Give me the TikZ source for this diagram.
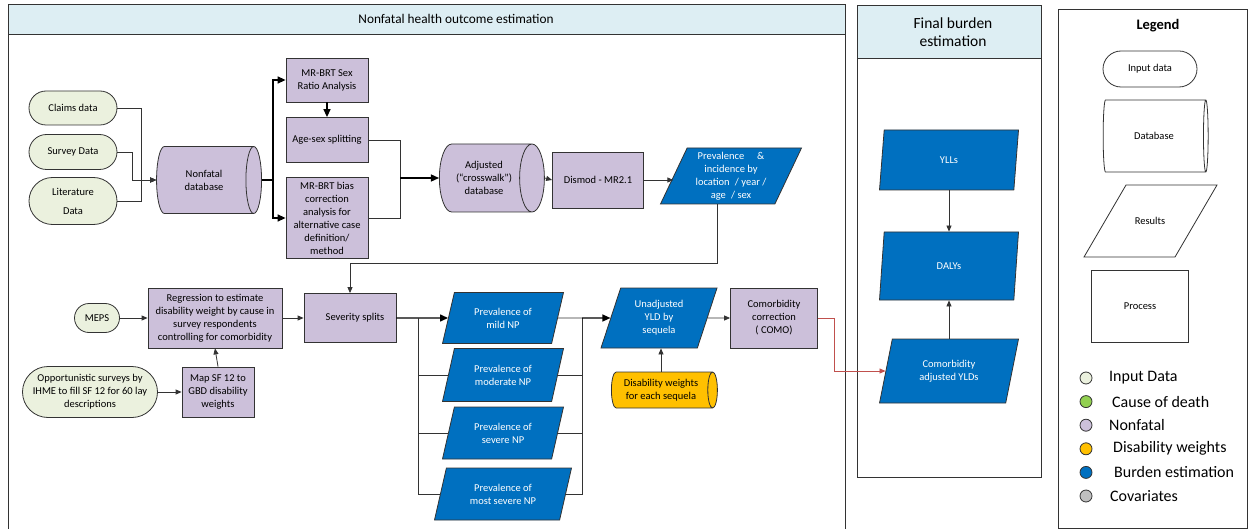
\documentclass[tikz,border=0pt]{standalone}
\usepackage{fontspec}
\setmainfont{Carlito}
\usetikzlibrary{positioning,shapes.geometric,shapes.misc,arrows.meta}

\definecolor{headblue}{HTML}{DDEEF3}
\definecolor{inpgreen}{HTML}{EBF1DE}
\definecolor{nfpurple}{HTML}{CCC0DA}
\definecolor{dwyellow}{HTML}{FFC000}
\definecolor{burdenblue}{HTML}{0070C0}
\definecolor{codgreen}{HTML}{92D050}
\definecolor{covgrey}{HTML}{BFBFBF}
\definecolor{linkred}{HTML}{C0504D}

\tikzset{
  panel/.style={draw=black!80, line width=0.8pt},
  paneltitle/.style={align=center},
  box/.style={draw=black!80, line width=0.8pt, align=center, inner sep=1pt,
    font=\fontsize{10.5}{13}\selectfont},
  inp/.style={box, rounded rectangle, fill=inpgreen},
  proc/.style={box, rectangle, fill=nfpurple},
  dbase/.style={box, cylinder, shape aspect=0.7, fill=nfpurple},
  result/.style={box, trapezium, trapezium left angle=62, trapezium right angle=118,
    trapezium stretches body, fill=burdenblue, text=white},
  flow/.style={draw=black!80, line width=0.8pt, -{Triangle[length=6pt,width=5pt]}},
  flowthick/.style={draw=black, line width=1.4pt, -{Triangle[length=8pt,width=7pt]}},
  legdot/.style={circle, draw=black!80, line width=0.8pt, minimum size=12pt, inner sep=0pt},
  legtext/.style={anchor=west, inner sep=1pt, font=\fontsize{16}{18}\selectfont},
}

\begin{document}
\begin{tikzpicture}[x=1pt,y=-1pt]
  \useasboundingbox (0,0) rectangle (1249,529);

  % Nonfatal panel
  \fill[headblue] (8,4) rectangle (845,34);
  \draw[panel] (8,529) -- (8,4) -- (845,4) -- (845,529);
  \draw[panel] (8,34) -- (845,34);
  \node[paneltitle, font=\fontsize{13.3}{16}\selectfont] (nftitle) at (456,19) {Nonfatal health outcome estimation};

  % Final burden panel
  \draw[panel, fill=headblue] (857,5) rectangle (1041,58);
  \draw[panel] (857,58) rectangle (1041,477);
  \node[paneltitle, font=\fontsize{15.5}{18.5}\selectfont] (fbtitle) at (953,32) {Final burden\\estimation};

  % Legend panel
  \draw[panel] (1058,9) rectangle (1247,528);
  \node[font=\bfseries\fontsize{14.5}{16}\selectfont] (legtitle) at (1158,26) {Legend};

  % input data and nonfatal database
  \node[inp, minimum width=90pt, minimum height=34pt] (claims) at (73,108) {Claims data};
  \node[inp, minimum width=90pt, minimum height=35pt] (survey) at (73,152) {Survey Data};
  \node[inp, minimum width=90pt, minimum height=47pt] (lit) at (73,201) {Literature\\[6pt]Data};
  \node[dbase, minimum height=105pt, minimum width=67pt] (ndb) at (204,180) {Nonfatal\\database};

  % adjustments
  \node[proc, minimum width=82pt, minimum height=44pt] (sexr) at (327,80) {MR-BRT Sex\\Ratio Analysis};
  \node[proc, minimum width=82pt, minimum height=45pt] (agesex) at (327,140) {Age-sex splitting};
  \node[proc, minimum width=82pt, minimum height=81pt] (bias) at (327,218)
    {MR-BRT bias\\correction\\analysis for\\alternative case\\definition/\\method};
  \node[dbase, minimum height=105pt, minimum width=68pt] (adjdb) at (484,178)
    {Adjusted\\(“crosswalk”)\\database};
  \node[proc, minimum width=91pt, minimum height=56pt] (dismod) at (598,180) {Dismod - MR2.1};
  \node[result, minimum width=141pt, minimum height=56pt] (prev) at (731,176)
    {Prevalence\quad\ \&\\incidence by\\location\enspace/ year /\\age\enspace/ sex};

  % disability weights
  \node[inp, minimum width=47pt, minimum height=29pt] (meps) at (97,318) {MEPS};
  \node[proc, minimum width=134pt, minimum height=60pt] (regr) at (215,318)
    {Regression to estimate\\disability weight by cause in\\survey respondents\\controlling for comorbidity};
  \node[proc, minimum width=92pt, minimum height=49pt] (sev) at (350,318) {\hspace*{10pt}Severity splits};
  \node[inp, minimum width=137pt, minimum height=51pt] (opp) at (90,392)
    {Opportunistic surveys by\\IHME to fill SF 12 for 60 lay\\descriptions};
  \node[proc, minimum width=72pt, minimum height=50pt] (mapsf) at (218,392)
    {Map SF 12 to\\GBD disability\\weights};

  % severity results
  \node[result, minimum width=121pt, minimum height=51pt] (mild) at (503,318) {Prevalence of\\mild NP};
  \node[result, minimum width=121pt, minimum height=53pt] (moder) at (503,375) {Prevalence of\\moderate NP};
  \node[result, minimum width=121pt, minimum height=52pt] (severe) at (503,433) {Prevalence of\\severe NP};
  \node[result, minimum width=137pt, minimum height=52pt] (most) at (503,494) {Prevalence of\\most severe NP};
  \node[result, minimum width=116pt, minimum height=60pt] (unadj) at (659,318) {Unadjusted\\YLD by\\sequela};
  \node[box, cylinder, shape aspect=0.4, fill=dwyellow, text=black,
    minimum height=106pt, minimum width=36pt] (dw) at (661,390) {Disability weights\\for each sequela};
  \node[proc, minimum width=87pt, minimum height=60pt] (como) at (774,318) {Comorbidity\\correction\\( COMO)};

  % final burden
  \node[result, minimum width=139pt, minimum height=60pt] (ylls) at (949,160) {YLLs};
  \node[result, minimum width=139pt, minimum height=68pt] (dalys) at (949,266) {DALYs};
  \node[result, minimum width=139pt, minimum height=64pt] (cadj) at (949,371) {Comorbidity\\adjusted YLDs};

  % legend shapes
  \node[box, rounded rectangle, fill=white, minimum width=96pt, minimum height=36pt] (lin) at (1150,69) {Input data};
  \node[box, cylinder, shape aspect=0.5, fill=white, minimum height=105pt, minimum width=72pt] (ldb) at (1154,136) {Database};
  \draw[panel] (1084,257) -- (1126,185) -- (1217,185) -- (1175,257) -- cycle;
  \node[box, draw=none] (lres) at (1150,221) {Results};
  \node[box, fill=white, minimum width=97pt, minimum height=72pt] (lproc) at (1140,306) {Process};
  \foreach \col/\lab/\xo [count=\i] in {inpgreen/Input Data/1108, codgreen/Cause of death/1111,
      nfpurple/Nonfatal/1108, dwyellow/Disability weights/1112,
      burdenblue/Burden estimation/1113, covgrey/Covariates/1109} {
    \node[legdot, fill=\col] (dot\i) at (1086,354.4+23.6*\i) {};
    \node[legtext] (leg\i) at (\xo,354.4+23.6*\i) {\lab};
  }

  % connectors
  \draw[flow] (claims.east) -- ++(24,0) |- (ndb.west);
  \draw[flow] (survey.east) -- ++(15,0) |- (ndb.west);
  \draw[flow] (lit.east) -- ++(24,0) |- (ndb.west);
  \draw[flowthick] (ndb.east) -- ++(11,0) coordinate (j1) |- (sexr.west);
  \draw[flowthick] (j1) |- (bias.west);
  \draw[flowthick] (sexr.south) -- (agesex.north);
  \coordinate (j2) at (400,178);
  \draw[flow, -] (agesex.east) -| (j2);
  \draw[flow, -] (bias.east) -| (j2);
  \draw[flowthick] (j2) -- (adjdb.west);
  \draw[flow] (adjdb.east) -- (dismod.west);
  \draw[flow] (dismod.east) -- (dismod.east -| prev.west);
  \draw[flow] (prev.bottom side) -- ++(0,59) -| (sev.north);
  \draw[flow] (meps.east) -- (regr.west);
  \draw[flow] (regr.east) -- (sev.west);
  \draw[flow] (opp.east) -- (mapsf.west);
  \draw[flow] (mapsf.north) -- (regr.south);
  \draw[flowthick] (sev.east) -- ++(22,0) coordinate (j3) -- (mild.west);
  \draw[flow, -] (j3) |- (moder.west);
  \draw[flow, -] (j3) |- (severe.west);
  \draw[flow, -] (j3) |- (most.west);
  \coordinate (j4) at (582,318);
  \draw[flow, -] (mild.east) -- (j4);
  \draw[flow, -] (moder.east) -| (j4);
  \draw[flow, -] (severe.east) -| (j4);
  \draw[flow, -] (most.east) -| (j4);
  \draw[flowthick] (j4) -- (unadj.west);
  \draw[flow] (dw.north) -- (dw.north |- unadj.south);
  \draw[flow] (unadj.east) -- (como.west);
  \draw[flow, draw=linkred] (como.east) -- ++(16,0) |- (cadj.west);
  \draw[flow] (ylls.south -| ylls.center) -- (dalys.north -| dalys.center);
  \draw[flow] (cadj.north -| cadj.center) -- (dalys.south -| dalys.center);
\end{tikzpicture}
\end{document}
